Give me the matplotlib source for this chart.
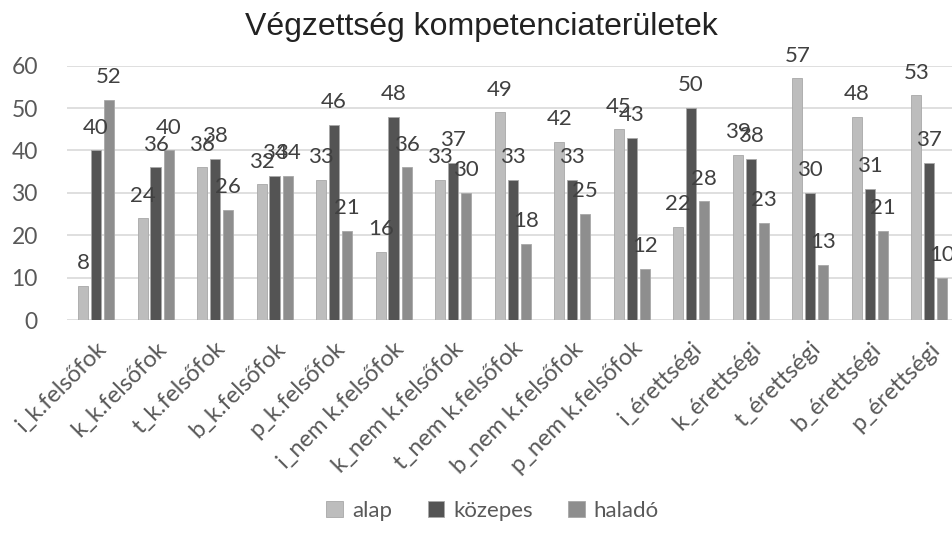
import numpy as np
import matplotlib.pyplot as plt

kategoriak = ['i_k.felsőfok', 'k_k.felsőfok', 't_k.felsőfok', 'b_k.felsőfok', 'p_k.felsőfok',
              'i_nem k.felsőfok', 'k_nem k.felsőfok', 't_nem k.felsőfok', 'b_nem k.felsőfok',
              'p_nem k.felsőfok', 'i_érettségi', 'k_érettségi', 't_érettségi', 'b_érettségi',
              'p_érettségi']
alap = [8, 24, 36, 32, 33, 16, 33, 49, 42, 45, 22, 39, 57, 48, 53]
kozepes = [40, 36, 38, 34, 46, 48, 37, 33, 33, 43, 50, 38, 30, 31, 37]
halado = [52, 40, 26, 34, 21, 36, 30, 18, 25, 12, 28, 23, 13, 21, 10]

sorozatok = [('alap', alap, '#bdbdbd'), ('közepes', kozepes, '#545454'), ('haladó', halado, '#8e8e8e')]

plt.rcParams['font.family'] = ['Lato', 'DejaVu Sans']

fig = plt.figure(figsize=(9.53, 5.33), dpi=100)
ax = fig.add_axes([0.0703, 0.3996, 0.9297, 0.4771])

x = np.arange(len(kategoriak))
szel = 0.17
elt = [-0.215, 0, 0.22]
for (nev, ertekek, szin), d in zip(sorozatok, elt):
    bars = ax.bar(x + d, ertekek, szel, color=szin, edgecolor='#a8a8a8', linewidth=0.6, label=nev, zorder=2)
    for b, v in zip(bars, ertekek):
        ax.text(b.get_x() + b.get_width() / 2, v + 3.0, str(v), ha='center', va='bottom',
                fontsize=16, color='#404040', clip_on=False)

ax.set_xlim(-0.487, 14.40)
ax.set_ylim(0, 60)
ax.set_yticks(range(0, 61, 10))
ax.grid(axis='y', color='#d9d9d9', linewidth=1.2, zorder=0)
for s in ax.spines.values():
    s.set_visible(False)
ax.tick_params(axis='both', length=0, labelcolor='#595959')
ax.tick_params(axis='y', pad=21, labelsize=16.5)
ax.tick_params(axis='x', pad=13, labelsize=17)
ax.set_xticks(x)
ax.set_xticklabels(kategoriak, rotation=45, ha='right', rotation_mode='anchor')

fig.suptitle('Végzettség kompetenciaterületek', x=0.505, y=0.978, fontsize=23, color='#222222',
             family='Liberation Sans')
fig.legend(loc='lower center', ncol=3, frameon=False, fontsize=16, bbox_to_anchor=(0.517, -0.015),
           handlelength=0.75, handleheight=0.75, handletextpad=0.4, columnspacing=1.6, labelcolor='#595959')

fig.savefig('out.png', dpi=100)
